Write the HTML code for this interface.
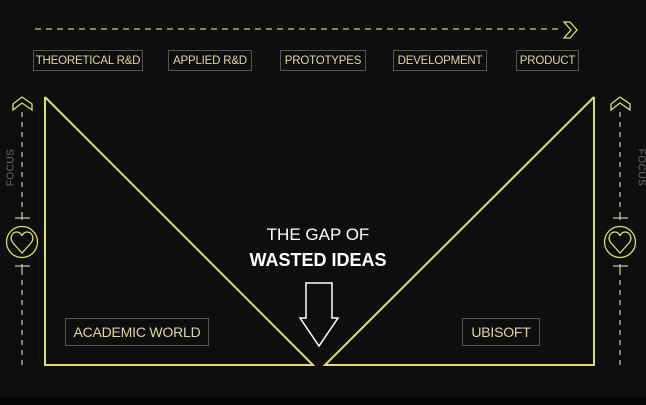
<!DOCTYPE html>
<html><head><style>
html,body{margin:0;padding:0;background:#0d0e0d;}
body{width:646px;height:405px;position:relative;overflow:hidden;font-family:"Liberation Sans",sans-serif;}
.b{position:absolute;border:1px solid #55574f;color:#d9d7a4;font-size:11.5px;display:flex;align-items:center;justify-content:center;box-sizing:border-box;letter-spacing:-0.2px;white-space:nowrap}
.t{position:absolute;color:#fff;font-size:17px;width:200px;text-align:center;left:218px}
.f{position:absolute;color:#6c6e6a;font-size:10px;letter-spacing:0.5px}
</style></head><body>
<svg width="646" height="405" style="position:absolute;left:0;top:0">
<rect x="0" y="398" width="646" height="7" fill="#050505"/>
<g fill="none" stroke="#d8df6a" stroke-width="2">
<polyline points="45,97 45,365 313,365 45,97"/>
<polyline points="594,97 594,365 325,365 594,97"/>
</g>
<line x1="35" y1="29" x2="560" y2="29" stroke="#c9c98f" stroke-width="1.2" stroke-dasharray="6,5"/>
<polygon points="564,22 570,22 577,30 570,38 564,38 571,30" fill="none" stroke="#d8df6a" stroke-width="1.3"/>
<g stroke="#c9c9b0" stroke-width="1.2">
<line x1="22" y1="112" x2="22" y2="214" stroke-dasharray="5,5"/>
<line x1="22" y1="270" x2="22" y2="368" stroke-dasharray="5,5"/>
<line x1="620" y1="112" x2="620" y2="214" stroke-dasharray="5,5"/>
<line x1="620" y1="270" x2="620" y2="368" stroke-dasharray="5,5"/>
<line x1="22" y1="214" x2="22" y2="220"/><line x1="15" y1="218" x2="30" y2="218"/>
<line x1="22" y1="264" x2="22" y2="270"/><line x1="15" y1="266" x2="30" y2="266"/>
<line x1="620" y1="214" x2="620" y2="220"/><line x1="613" y1="218" x2="628" y2="218"/>
<line x1="620" y1="264" x2="620" y2="270"/><line x1="613" y1="266" x2="628" y2="266"/>
</g>
<g fill="none" stroke="#d8df6a" stroke-width="1.3">
<polygon points="13,104 22,97 32,104 32,110 22,103 13,110"/>
<polygon points="611,104 620,97 630,104 630,110 620,103 611,110"/>
<circle cx="22" cy="242" r="15.5"/>
<circle cx="620" cy="242" r="15.5"/>
<path d="M22,253 L13,243 C9,238 12,232 17,232 C20,232 22,235 22,236 C22,235 24,232 27,232 C32,232 35,238 31,243 Z"/>
<path d="M620,253 L611,243 C607,238 610,232 615,232 C618,232 620,235 620,236 C620,235 622,232 625,232 C630,232 633,238 629,243 Z"/>
</g>
<polygon points="306,283 332,283 332,318 338,318 319,346 300,318 306,318" fill="none" stroke="#fff" stroke-width="1.5"/>
</svg>
<div class="b" style="left:33px;top:50px;width:110px;height:21px">THEORETICAL R&amp;D</div>
<div class="b" style="left:168px;top:50px;width:84px;height:21px">APPLIED R&amp;D</div>
<div class="b" style="left:280px;top:50px;width:86px;height:21px">PROTOTYPES</div>
<div class="b" style="left:393px;top:50px;width:94px;height:21px">DEVELOPMENT</div>
<div class="b" style="left:516px;top:50px;width:63px;height:21px">PRODUCT</div>
<div class="b" style="left:65px;top:318px;width:144px;height:28px;font-size:14px">ACADEMIC WORLD</div>
<div class="b" style="left:462px;top:318px;width:78px;height:28px;font-size:14px">UBISOFT</div>
<div class="t" style="top:225px">THE GAP OF</div>
<div class="t" style="top:250px;font-weight:bold;font-size:18px">WASTED IDEAS</div>
<div class="f" style="left:-8px;top:162px;transform:rotate(-90deg)">FOCUS</div>
<div class="f" style="left:622px;top:162px;transform:rotate(90deg)">FOCUS</div>
</body></html>
